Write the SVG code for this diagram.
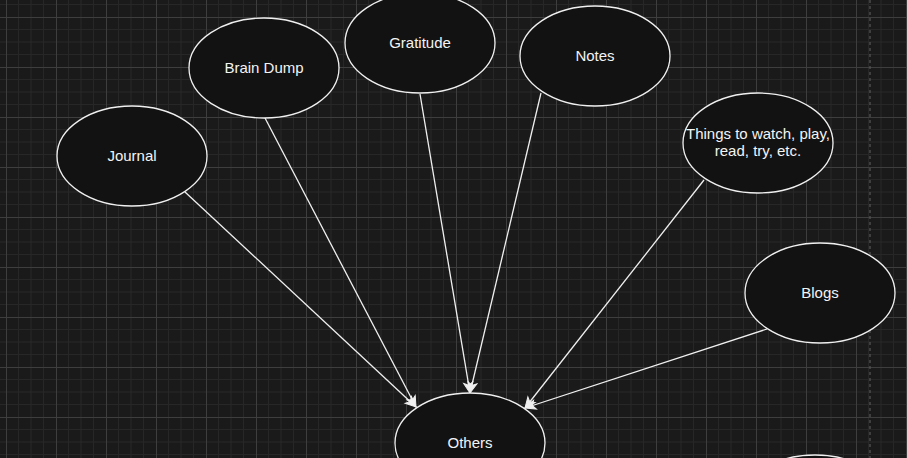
<svg xmlns="http://www.w3.org/2000/svg" width="907" height="458" viewBox="0 0 907 458">
  <defs>
    <pattern id="grid" patternUnits="userSpaceOnUse" x="6" y="17" width="50" height="50">
      <path d="M12.5 0V50M25 0V50M37.5 0V50M0 12.5H50M0 25H50M0 37.5H50" stroke="#272727" stroke-width="1" fill="none"/>
      <path d="M0.5 0V50M0 0.5H50" stroke="#3e3e3e" stroke-width="1" fill="none"/>
    </pattern>
    <marker id="arrow" markerUnits="userSpaceOnUse" markerWidth="14" markerHeight="12" viewBox="-11 -6 12 12" refX="0" refY="0" orient="auto">
      <path d="M0,0 L-10.5,-4.6 L-7.8,0 L-10.5,4.6 Z" fill="#f0f0f0" stroke="#f0f0f0" stroke-width="1"/>
    </marker>
    <style>
      .node ellipse { fill: #121212; stroke: #f0f0f0; stroke-width: 1.3; }
      .node text { font-family: "Liberation Sans", Arial, sans-serif; font-size: 15px; fill: #f4f4f4; text-anchor: middle; }
      .edge { stroke: #f0f0f0; stroke-width: 1.3; fill: none; marker-end: url(#arrow); }
    </style>
  </defs>
  <rect width="907" height="458" fill="#1a1a1a"/>
  <rect width="907" height="458" fill="url(#grid)"/>
  <line x1="870" y1="0" x2="870" y2="458" stroke="#575757" stroke-width="1.2" stroke-dasharray="3 3"/>

  <g id="connectors">
    <line class="edge" x1="185" y1="192" x2="416" y2="407"/>
    <line class="edge" x1="265" y1="118" x2="416" y2="407"/>
    <line class="edge" x1="420" y1="94" x2="470" y2="393"/>
    <line class="edge" x1="541" y1="93" x2="470" y2="393"/>
    <line class="edge" x1="704" y1="180" x2="525" y2="408"/>
    <line class="edge" x1="767" y1="329" x2="525" y2="408"/>
  </g>

  <g id="journal" class="node">
    <ellipse cx="132" cy="156" rx="75" ry="50"/>
    <text x="132" y="161">Journal</text>
  </g>
  <g id="brain-dump" class="node">
    <ellipse cx="264" cy="68" rx="75" ry="50"/>
    <text x="264" y="73">Brain Dump</text>
  </g>
  <g id="gratitude" class="node">
    <ellipse cx="420" cy="43" rx="75" ry="50"/>
    <text x="420" y="48">Gratitude</text>
  </g>
  <g id="notes" class="node">
    <ellipse cx="595" cy="56" rx="75" ry="50"/>
    <text x="595" y="61">Notes</text>
  </g>
  <g id="things" class="node">
    <ellipse cx="758" cy="143" rx="75" ry="50"/>
    <text x="758" y="138.5">Things to watch, play,</text>
    <text x="758" y="156">read, try, etc.</text>
  </g>
  <g id="blogs" class="node">
    <ellipse cx="820" cy="293" rx="75" ry="50"/>
    <text x="820" y="298">Blogs</text>
  </g>
  <g id="others" class="node">
    <ellipse cx="470" cy="443" rx="75" ry="50"/>
    <text x="470" y="448">Others</text>
  </g>
  <g id="partial-node" class="node">
    <ellipse cx="815" cy="505" rx="75" ry="50"/>
  </g>
</svg>
